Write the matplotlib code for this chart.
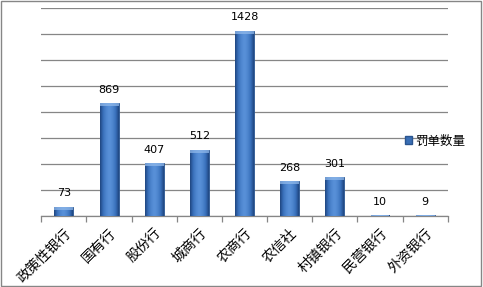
import numpy as np
import matplotlib
matplotlib.use('Agg')
import matplotlib.pyplot as plt
from matplotlib.patches import Rectangle, Patch
from matplotlib.colors import LinearSegmentedColormap

plt.rcParams['font.family'] = ['Noto Sans CJK SC', 'DejaVu Sans']

# data
categories = ['政策性银行', '国有行', '股份行', '城商行', '农商行', '农信社', '村镇银行', '民营银行', '外资银行']
fines = [73, 869, 407, 512, 1428, 268, 301, 10, 9]
series_name = '罚单数量'

fig = plt.figure(figsize=(4.83, 2.87), dpi=100)
ax = fig.add_axes([0.0855, 0.2463, 0.8415, 0.7247])

x = np.arange(len(categories))
bars = ax.bar(x, fines, width=0.42, color='#3a6fb5', edgecolor='#2a5590', linewidth=0.6, zorder=3)

# fake the 3d shading of the bars: dark edges, light middle
grad = np.abs(np.linspace(-1, 1, 64))
grad = np.tile(1 - grad ** 1.6, (2, 1))
cmap = LinearSegmentedColormap.from_list('barshade', ['#1f4680', '#3a71bc', '#5890d8'])
for b in bars:
    bx, by = b.get_x(), b.get_y()
    bw, bh = b.get_width(), b.get_height()
    im = ax.imshow(grad, cmap=cmap, aspect='auto', extent=(bx, bx + bw, by, by + bh), zorder=3.5)
    im.set_clip_path(b)
    # light bevel on top
    cap = min(bh, 22)
    ax.add_patch(Rectangle((bx, by + bh - cap), bw, cap, facecolor='#8fb8ea', edgecolor='none',
                           alpha=0.75, zorder=3.6))

for xi, v in zip(x, fines):
    ax.annotate(str(v), (xi, v), xytext=(0, 6), textcoords='offset points',
                ha='center', va='bottom', fontsize=8, family='DejaVu Sans')

ax.set_xlim(-0.5, len(categories) - 0.5)
ax.set_ylim(0, 1600)
ax.set_yticks(np.arange(0, 1601, 200))
ax.yaxis.grid(True, color='#868686', linewidth=0.9, zorder=0)
ax.tick_params(axis='y', left=False, labelleft=False)

ax.set_xticks(np.arange(-0.5, len(categories), 1.0))
ax.set_xticklabels([])
ax.tick_params(axis='x', direction='out', length=4, color='#868686', width=0.9)
ax.set_xticks(x, minor=True)
ax.set_xticklabels(categories, minor=True, rotation=45, ha='right', va='top',
                   rotation_mode='anchor', fontsize=10)
ax.tick_params(axis='x', which='minor', length=0, pad=7)

for s in ['top', 'right', 'left']:
    ax.spines[s].set_visible(False)
ax.spines['bottom'].set_color('#868686')
ax.spines['bottom'].set_linewidth(0.9)

fig.legend(handles=[Patch(facecolor='#3a6fb5', edgecolor='#2a5590')], labels=[series_name],
           loc='center left', bbox_to_anchor=(0.838, 0.509), frameon=False, fontsize=9,
           handlelength=0.55, handleheight=0.55, handletextpad=0.3, borderpad=0,
           borderaxespad=0)

fig.add_artist(Rectangle((0.003, 0.004), 0.993, 0.991, transform=fig.transFigure,
                         fill=False, edgecolor='#868686', linewidth=1))

fig.savefig('out.png', dpi=100)
